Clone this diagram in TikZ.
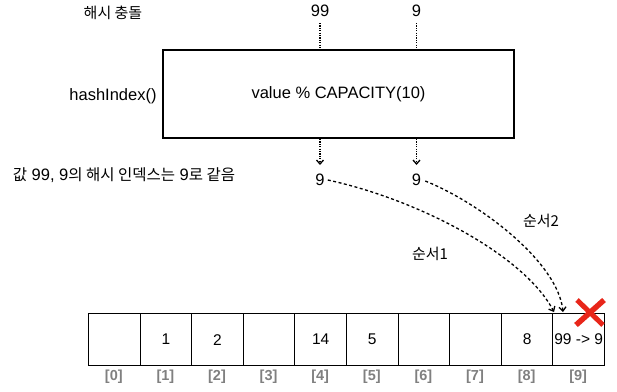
\documentclass[tikz,border=0pt]{standalone}
\usepackage{fontspec}
\setmainfont{Liberation Sans}
\newfontfamily\kr{Noto Sans CJK KR}
\usetikzlibrary{arrows.meta}
\definecolor{idxgray}{HTML}{808080}
\definecolor{xred}{HTML}{E8261A}
\newcommand{\krs}{\kr\fontsize{15.5}{17}\selectfont}
\tikzset{
  txt/.style={inner sep=0pt,anchor=center,font=\fontsize{16.5}{18}\selectfont},
  krtxt/.style={inner sep=0pt,anchor=center,font=\kr\fontsize{15}{17}\selectfont},
  cell/.style={draw,line width=0.9pt,minimum width=51.6pt,minimum height=51.7pt,inner sep=0pt,anchor=north west,font=\fontsize{15.5}{16}\selectfont},
  idx/.style={inner sep=0pt,anchor=center,text=idxgray,font=\bfseries\fontsize{14.5}{16}\selectfont},
  dotline/.style={line width=1.4pt,dash pattern=on 1.2pt off 1.2pt},
  dashline/.style={line width=1.3pt,dash pattern=on 3pt off 2.5pt},
  tip/.style={-{Straight Barb[length=4pt,width=7pt,line width=1.3pt]}}
}
\begin{document}
\begin{tikzpicture}[x=1pt,y=-1pt]
\useasboundingbox (0,0) rectangle (617,391);
% titles
\node[krtxt] (title) at (113,13) {해시 충돌};
\node[txt] (hi) at (113,96) {hashIndex()};
\node[inner sep=0pt,anchor=center,font=\fontsize{16.5}{18}\selectfont] (same) at (124,175)
  {{\krs 값} 99, 9{\krs 의 해시 인덱스는} 9{\krs 로 같음}};
% inputs
\node[txt] (in1) at (320,11) {99};
\node[txt] (in2) at (416.5,11) {9};
% box
\node[draw,line width=2pt,minimum width=351pt,minimum height=88pt,inner sep=0pt,font=\fontsize{16.5}{18}\selectfont] (box) at (338.5,94) {value \% CAPACITY(10)};
% outputs
\node[txt] (out1) at (320,180) {9};
\node[txt] (out2) at (416.5,180) {9};
\coordinate (a1) at (320,23);
\coordinate (a2) at (416.5,23);
\draw[dotline] (a1) -- (a1 |- box.north);
\draw[dotline] (a2) -- (a2 |- box.north);
\draw[dotline,tip] (box.south -| a1) -- (320,165);
\draw[dotline,tip] (box.south -| a2) -- (416.5,165);
% array
\foreach \i/\v in {0/,1/1,2/2,3/,4/14,5/5,6/,7/,8/8,9/{99 -> 9}}{
  \node[cell] (c\i) at ({88+51.6*\i},313.3) {\v};
  \node[idx] (l\i) at ({88+51.6*\i+25.8},377) {[\i]};
}
% arrows
\coordinate (e1) at (554,312);
\coordinate (e2) at (563,312);
\draw[dashline,tip] (out1.east) ++(3,0) .. controls (420,200) and (525,256) .. (e1);
\draw[dashline,tip] (out2.east) ++(4,1) .. controls (480,203) and (558,262) .. (e2);
\node[krtxt] (s1) at (430,254) {순서1};
\node[krtxt] (s2) at (541,221) {순서2};
% red X
\draw[xred,line width=5pt] (577,300) -- (603,325);
\draw[xred,line width=5.5pt] (604,300) -- (576,325);
\end{tikzpicture}
\end{document}
